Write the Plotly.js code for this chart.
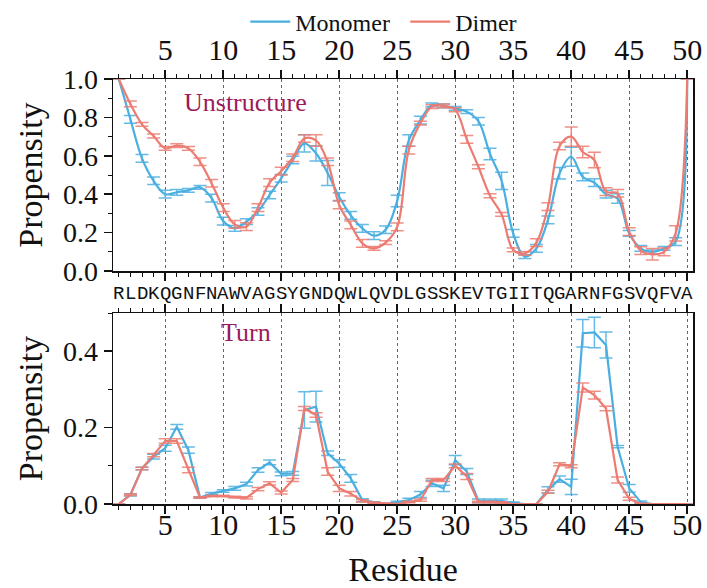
<!DOCTYPE html>
<html>
<head>
<meta charset="utf-8">
<script src="https://cdn.plot.ly/plotly-3.0.1.min.js"></script>
<style>html,body{margin:0;padding:0;background:#fff;}#chart{width:707px;height:588px;}</style>
</head>
<body>
<div id="chart"></div>
<script>
// ---- data ----
const residues = [1,2,3,4,5,6,7,8,9,10,11,12,13,14,15,16,17,18,19,20,21,22,23,24,25,26,27,28,29,30,31,32,33,34,35,36,37,38,39,40,41,42,43,44,45,46,47,48,49,50];
const sequence = ["R","L","D","K","Q","G","N","F","N","A","W","V","A","G","S","Y","G","N","D","Q","W","L","Q","V","D","L","G","S","S","K","E","V","T","G","I","I","T","Q","G","A","R","N","F","G","S","V","Q","F","V","A"];
const xTickVals = [5,10,15,20,25,30,35,40,45,50];
const yTopTicks = [0, 0.2, 0.4, 0.6, 0.8, 1.0];
const yBotTicks = [0, 0.2, 0.4];

// Unstructure propensity
const monoUnstr = [1.0,0.79,0.587,0.47,0.40,0.41,0.42,0.436,0.38,0.26,
  0.222,0.257,0.31,0.396,0.483,0.578,0.665,0.613,0.51,0.387,
  0.29,0.222,0.184,0.215,0.365,0.68,0.786,0.865,0.86,0.847,
  0.83,0.78,0.61,0.47,0.196,0.075,0.118,0.266,0.509,0.595,
  0.49,0.46,0.40,0.378,0.196,0.118,0.10,0.118,0.153,1.0];
const monoUnstrErr = [0,0.02,0.02,0.02,0.02,0.015,0.01,0.01,0.02,0.02,
  0.015,0.015,0.02,0.02,0.02,0.02,0.045,0.04,0.065,0.02,
  0.02,0.02,0.02,0.02,0.03,0.03,0.02,0.01,0.01,0.01,
  0.01,0.02,0.03,0.045,0.02,0.01,0.02,0.02,0.03,0.05,
  0.02,0.02,0.02,0.025,0.015,0.015,0.01,0.01,0.02,0];
const dimerUnstr = [1.0,0.87,0.764,0.703,0.639,0.653,0.639,0.569,0.457,0.33,
  0.243,0.231,0.33,0.46,0.52,0.59,0.69,0.68,0.569,0.344,
  0.24,0.144,0.118,0.148,0.23,0.63,0.77,0.856,0.86,0.84,
  0.686,0.543,0.392,0.295,0.11,0.092,0.148,0.335,0.651,0.70,
  0.62,0.578,0.413,0.405,0.205,0.106,0.087,0.10,0.196,1.0];
const dimerUnstrErr = [0,0.015,0.01,0.01,0.01,0.01,0.01,0.02,0.02,0.02,
  0.02,0.02,0.02,0.02,0.02,0.02,0.02,0.03,0.02,0.02,
  0.02,0.02,0.01,0.01,0.02,0.02,0.01,0.01,0.01,0.01,
  0.02,0.01,0.01,0.01,0.01,0.01,0.02,0.02,0.02,0.05,
  0.03,0.04,0.02,0.02,0.02,0.02,0.03,0.02,0.04,0];

// Turn propensity
const monoTurn = [0,0.024,0.093,0.124,0.146,0.202,0.141,0.017,0.027,0.034,
  0.041,0.052,0.089,0.109,0.079,0.08,0.246,0.255,0.133,0.106,
  0.067,0.01,0.004,0,0.005,0.01,0.025,0.054,0.041,0.115,
  0.085,0.008,0.008,0.008,0.003,0,0,0.037,0.065,0.045,
  0.447,0.449,0.416,0.15,0.041,0.005,0,0,0,0];
const monoTurnErr = [0,0.003,0.003,0.006,0.008,0.006,0.008,0.002,0.003,0.003,
  0.005,0.005,0.006,0.006,0.005,0.005,0.048,0.04,0.006,0.01,
  0.01,0.004,0.002,0.001,0.002,0.005,0.008,0.008,0.008,0.012,
  0.008,0.005,0.005,0.005,0.002,0,0,0.008,0.008,0.02,
  0.036,0.04,0.034,0.003,0.01,0.003,0,0,0,0];
const dimerTurn = [0,0.024,0.093,0.128,0.165,0.165,0.089,0.017,0.021,0.021,
  0.018,0.016,0.039,0.054,0.03,0.063,0.25,0.233,0.085,0.041,
  0.027,0.008,0.003,0.001,0,0.005,0.01,0.063,0.063,0.1,
  0.072,0.005,0.005,0.004,0,0,0,0.032,0.104,0.099,
  0.305,0.285,0.25,0.063,0.014,0,0,0,0,0];
const dimerTurnErr = [0,0.002,0.003,0.004,0.006,0.006,0.007,0.002,0.002,0.002,
  0.002,0.003,0.004,0.004,0.004,0.004,0.005,0.006,0.01,0.008,
  0.006,0.003,0.002,0.001,0.001,0.002,0.003,0.004,0.004,0.005,
  0.008,0.002,0.002,0.002,0,0,0,0.004,0.004,0.004,
  0.012,0.01,0.006,0.008,0.004,0.002,0,0,0,0];

const seriesNames = ["Monomer","Dimer"];
const panelLabels = ["Unstructure","Turn"];

// ---- styles ----
const BLUE = "#4aafe0", RED = "#ec7c72";
const BLUE_ERR = "rgba(74,175,224,0.85)", RED_ERR = "rgba(236,124,114,0.85)";
const SERIF = "Liberation Serif";

function tr(y, err, name, color, ecolor, xa, ya, shape, show) {
  return {
    x: residues, y: y, name: name, type: "scatter", mode: "lines",
    xaxis: xa, yaxis: ya, showlegend: show, legendgroup: name,
    line: {color: color, width: 2.2, shape: shape, smoothing: 1},
    error_y: {type: "data", array: err, visible: true, color: ecolor, thickness: 1.5, width: 6.5}
  };
}

const data = [
  tr(monoUnstr, monoUnstrErr, seriesNames[0], BLUE, BLUE_ERR, "x2", "y2", "spline", true),
  tr(dimerUnstr, dimerUnstrErr, seriesNames[1], RED, RED_ERR, "x2", "y2", "spline", true),
  tr(monoTurn, monoTurnErr, seriesNames[0], BLUE, BLUE_ERR, "x", "y", "linear", false),
  tr(dimerTurn, dimerTurnErr, seriesNames[1], RED, RED_ERR, "x", "y", "linear", false),
  // empty carriers so the label-only residue axes (x3 bottom, x4 top) are drawn
  {x: [], y: [], type: "scatter", mode: "lines", xaxis: "x3", yaxis: "y", showlegend: false, hoverinfo: "skip"},
  {x: [], y: [], type: "scatter", mode: "lines", xaxis: "x4", yaxis: "y2", showlegend: false, hoverinfo: "skip"}
];

function xAxis(extra) {
  return Object.assign({
    range: [0.5, 50.5], tickmode: "array", tickvals: xTickVals, ticks: "outside", ticklen: 8, tickwidth: 1.5,
    tickcolor: "#111", showline: true, linewidth: 1.5, linecolor: "#111", mirror: "ticks",
    showgrid: true, gridcolor: "#666", griddash: "dot", gridwidth: 1, zeroline: false, showticklabels: false,
    minor: {ticks: "outside", dtick: 1, tick0: 0, ticklen: 4, tickwidth: 1, tickcolor: "#111", showgrid: false}
  }, extra);
}
function labelAxis(extra) {
  return Object.assign({
    anchor: "free", range: [0.5, 50.5], tickmode: "array", tickvals: xTickVals, ticks: "",
    showline: false, showgrid: false, zeroline: false,
    tickfont: {size: 30, family: SERIF, color: "#111"}
  }, extra);
}
function yAxis(extra) {
  return Object.assign({
    ticks: "outside", ticklen: 8, tickwidth: 1.5, tickcolor: "#111", showline: true, linewidth: 1.5,
    linecolor: "#111", mirror: true, showgrid: false, zeroline: false, tickformat: ".1f", tickmode: "array",
    tickfont: {size: 28, family: SERIF, color: "#111"},
    title: {text: "Propensity", font: {size: 34, family: SERIF, color: "#111"}, standoff: 10},
    minor: {ticks: "outside", dtick: 0.1, ticklen: 4, tickwidth: 1, tickcolor: "#111", showgrid: false}
  }, extra);
}

const annotations = [
  {text: panelLabels[0], x: 11.9, y: 0.88, xref: "x2", yref: "y2", showarrow: false,
   font: {size: 26, family: SERIF, color: "#9c1a5b"}},
  {text: panelLabels[1], x: 12.0, y: 0.448, xref: "x", yref: "y", showarrow: false,
   font: {size: 26, family: SERIF, color: "#9c1a5b"}}
];
sequence.forEach((s, i) => {
  annotations.push({text: s, x: residues[i], y: 0.494, xref: "x2", yref: "paper", showarrow: false,
    yanchor: "middle", font: {size: 19, family: "Liberation Mono", color: "#111"}});
});

const layout = {
  width: 707, height: 588,
  margin: {l: 113, r: 14, t: 79, b: 84, pad: 0, autoexpand: false},
  paper_bgcolor: "#fff", plot_bgcolor: "#fff",
  font: {family: SERIF, color: "#111", size: 24},
  showlegend: true,
  legend: {orientation: "h", x: 0.228, xanchor: "left", y: 1.134, yanchor: "middle",
           entrywidth: 105, entrywidthmode: "pixels",
           font: {size: 24, family: SERIF, color: "#111"}, bgcolor: "rgba(0,0,0,0)", itemwidth: 40},
  xaxis: xAxis({domain: [0, 1], anchor: "y"}),
  xaxis3: labelAxis({overlaying: "x", position: 0, side: "bottom",
    title: {text: "Residue", font: {size: 34, family: SERIF, color: "#111"}, standoff: 24}}),
  yaxis: yAxis({domain: [0, 0.4494], anchor: "x", range: [0, 0.5], tickvals: yBotTicks}),
  xaxis2: xAxis({domain: [0, 1], anchor: "y2", side: "top"}),
  xaxis4: labelAxis({overlaying: "x2", position: 1, side: "top",
    ticks: "outside", ticklen: 7, tickcolor: "rgba(0,0,0,0)"}),
  yaxis2: yAxis({domain: [0.5482, 1], anchor: "x2", range: [0, 1.0], tickvals: yTopTicks}),
  annotations: annotations
};

Plotly.newPlot("chart", data, layout, {displayModeBar: false, staticPlot: true});
</script>
</body>
</html>
